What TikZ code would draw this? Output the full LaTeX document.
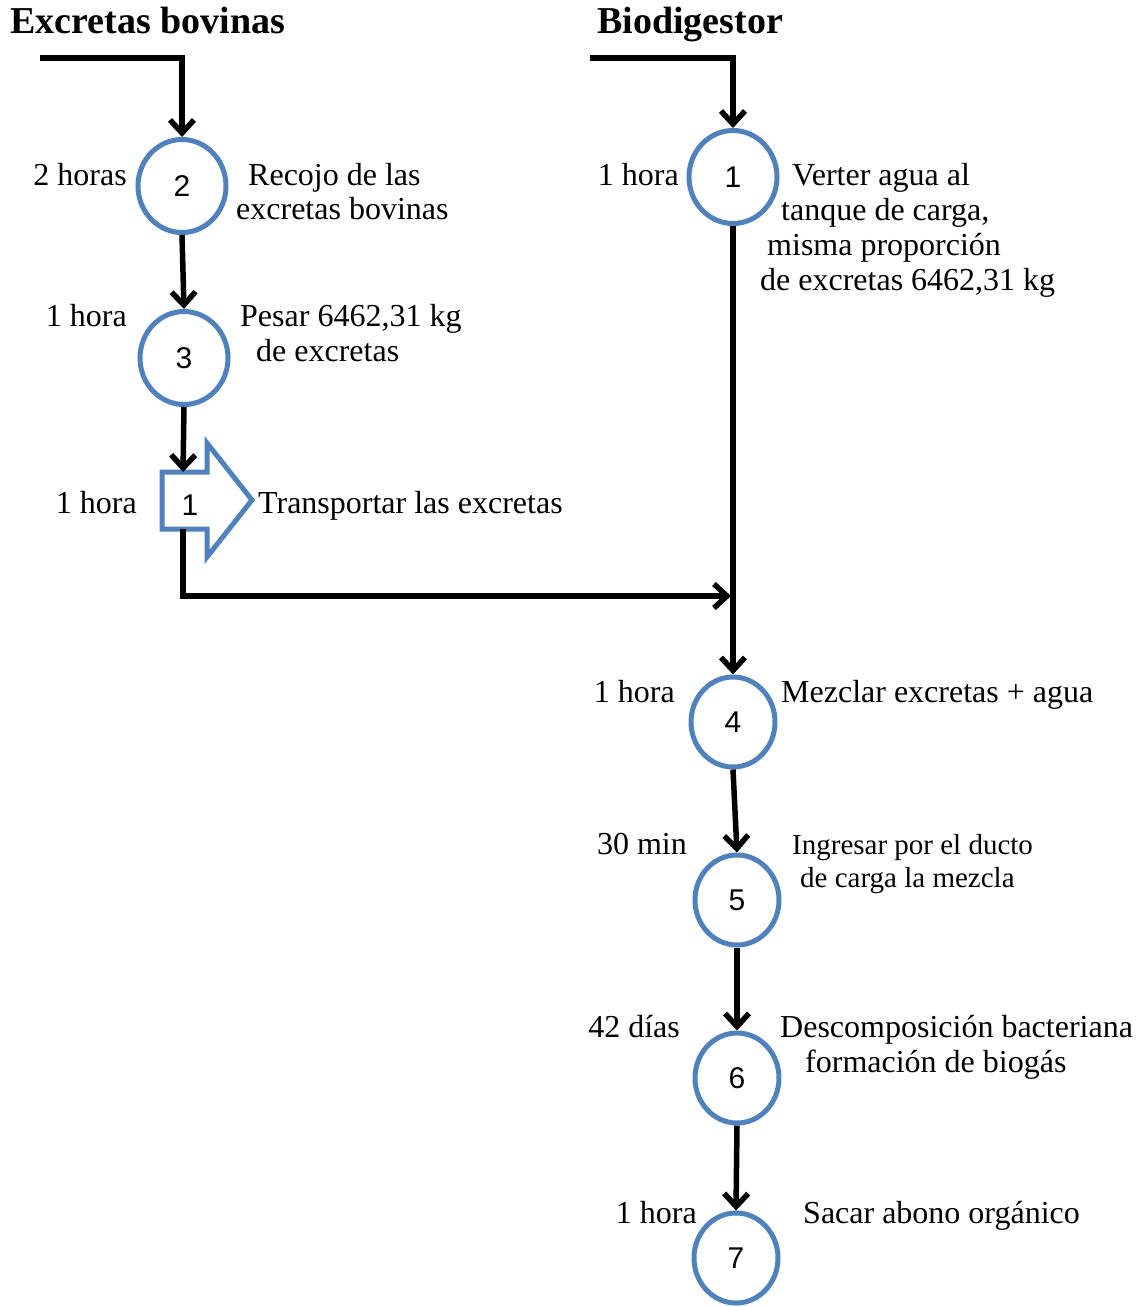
\documentclass[tikz,border=0pt]{standalone}
\usepackage{fontspec}
\setmainfont{Liberation Serif}
\newfontfamily\numfont{Liberation Sans}
\usetikzlibrary{shapes.geometric,arrows.meta}
\definecolor{stepblue}{HTML}{4F81BD}
\begin{document}
\begin{tikzpicture}[x=1pt,y=-1pt,
 stepnode/.style={ellipse, draw=stepblue, line width=5pt, minimum width=88pt, minimum height=93pt, inner sep=0pt, font=\numfont\fontsize{30}{30}\selectfont},
 smallstep/.style={stepnode, minimum width=84pt, minimum height=90pt},
 lbl/.style={inner sep=0pt, anchor=base east, font=\fontsize{32}{36}\selectfont},
 txt/.style={inner sep=0pt, anchor=base west, font=\fontsize{32}{36}\selectfont},
 txtsm/.style={inner sep=0pt, anchor=base west, font=\fontsize{29}{33}\selectfont},
 ttl/.style={inner sep=0pt, anchor=base west, font=\bfseries\fontsize{38}{42}\selectfont},
 flow/.style={line width=5.5pt, -{Straight Barb[length=13pt,width=24pt]}}
]
\useasboundingbox (0,0) rectangle (1141,1307);

% titles
\node[ttl] (ttlL) at (10,33) {Excretas bovinas};
\node[ttl] (ttlR) at (597,33) {Biodigestor};

% left column
\node[stepnode] (c2) at (182,186) {2};
\node[stepnode] (c3) at (184,358) {3};
\draw[stepblue, line width=5pt, line join=miter] (162,472) -- (207,472) -- (207,443) -- (252,500) -- (207,557) -- (207,529) -- (162,529) -- cycle;
\node[inner sep=0pt, font=\numfont\fontsize{30}{30}\selectfont] (tr) at (190,505) {1};
\coordinate (ttop) at (183,472);
\coordinate (tbot) at (183,529);

% right column
\node[stepnode] (c1) at (733,177) {1};
\node[smallstep] (c4) at (733,722) {4};
\node[smallstep] (c5) at (737,900) {5};
\node[smallstep] (c6) at (737,1078) {6};
\node[smallstep] (c7) at (736,1258) {7};

% connectors
\coordinate (inL) at (40,58);
\coordinate (inR) at (590,58);
\coordinate (join) at (731,596);
\draw[flow] (inL) -| (c2.north);
\draw[flow] (c2.south) -- (c3.north);
\draw[flow] (c3.south) -- (ttop);
\draw[flow] (tbot) |- (join);
\draw[flow] (inR) -| (c1.north);
\draw[flow] (c1.south) -- (c4.north);
\draw[flow] (c4.south) -- (c5.north);
\draw[flow] (c5.south) -- (c6.north);
\draw[flow] (c6.south) -- (c7.north);

% time labels
\node[lbl] (h2) at (127,185) {2 horas};
\node[lbl] (h3) at (127,326) {1 hora};
\node[lbl] (ht) at (137,513) {1 hora};
\node[lbl] (h1) at (679,185) {1 hora};
\node[lbl] (h4) at (675,702) {1 hora};
\node[lbl] (h5) at (687,854) {30 min};
\node[lbl] (h6) at (680,1037) {42 días};
\node[lbl] (h7) at (697,1223) {1 hora};

% descriptions
\node[txt] (d2a) at (248,185) {Recojo de las};
\node[txt] (d2b) at (236,219) {excretas bovinas};
\node[txt] (d3a) at (240,326) {Pesar 6462,31 kg};
\node[txt] (d3b) at (256,361) {de excretas};
\node[txt] (dt) at (258,513) {Transportar las excretas};
\node[txt] (d1a) at (792,185) {Verter agua al};
\node[txt] (d1b) at (781,220) {tanque de carga,};
\node[txt] (d1c) at (767,255) {misma proporción};
\node[txt] (d1d) at (760,290) {de excretas 6462,31 kg};
\node[txt] (d4) at (781,702) {Mezclar excretas + agua};
\node[txtsm] (d5a) at (792,854) {Ingresar por el ducto};
\node[txtsm] (d5b) at (800,887) {de carga la mezcla};
\node[txt] (d6a) at (780,1037) {Descomposición bacteriana};
\node[txt] (d6b) at (805,1072) {formación de biogás};
\node[txt] (d7) at (803,1223) {Sacar abono orgánico};
\end{tikzpicture}
\end{document}
